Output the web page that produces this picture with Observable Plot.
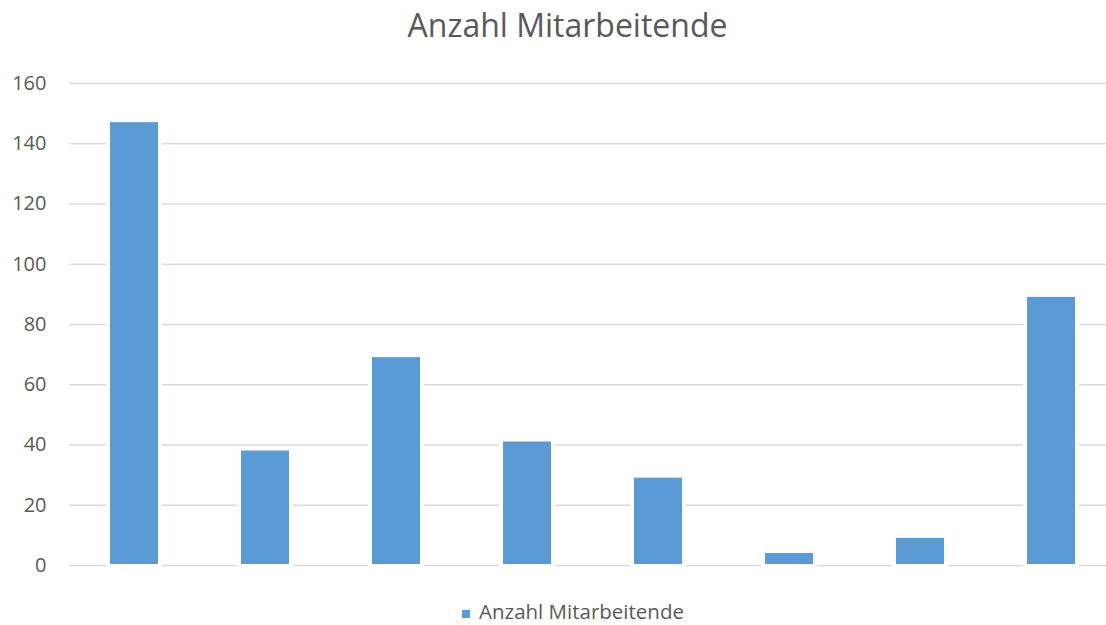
<!DOCTYPE html>
<html>
<head>
<meta charset="utf-8">
<script src="https://cdn.jsdelivr.net/npm/d3@7"></script>
<script src="https://cdn.jsdelivr.net/npm/@observablehq/plot@0.6"></script>
<style>
  html, body { margin: 0; padding: 0; background: #fff; }
  body { width: 1106px; height: 625px; overflow: hidden; font-family: "Open Sans", sans-serif; }
  #title { height: 60px; box-sizing: border-box; padding-top: 8.5px; line-height: 32px; font-size: 32px; color: #595959; text-align: center; padding-left: 29px; white-space: nowrap; }
  #legend { height: 35px; box-sizing: border-box; padding-top: 11px; line-height: 21px; font-size: 20.5px; color: #595959; text-align: center; padding-left: 40px; white-space: nowrap; }
  #legend .sw { display: inline-block; width: 8px; height: 8px; background: #5B9BD5; margin-right: 9px; vertical-align: 1px; }
  svg { display: block; }
</style>
</head>
<body>
<div id="title">Anzahl Mitarbeitende</div>
<div id="chart"></div>
<div id="legend"><span class="sw"></span>Anzahl Mitarbeitende</div>
<script>
const categories = ["1", "2", "3", "4", "5", "6", "7", "8"];
const values = [147, 38, 69, 41, 29, 4, 9, 89];
const yTicks = [0, 20, 40, 60, 80, 100, 120, 140, 160];
const seriesName = "Anzahl Mitarbeitende";

const data = categories.map((c, i) => ({cat: c, value: values[i]}));

const chart = Plot.plot({
  width: 1106,
  height: 530,
  marginTop: 23,
  marginBottom: 25,
  marginLeft: 69,
  marginRight: 0,
  style: {fontFamily: "'Open Sans', sans-serif", fontSize: "20px", color: "#595959", background: "#fff"},
  x: {domain: categories, range: [68.5, 1116.5], paddingInner: 0.63, paddingOuter: 0.315, axis: null},
  y: {domain: [0, 160], ticks: yTicks, tickSize: 0, tickPadding: 23, label: null, tickFormat: d => String(d)},
  marks: [
    Plot.ruleY(yTicks, {stroke: "#d9d9d9", strokeWidth: 1.5}),
    Plot.barY(data, {x: "cat", y: "value", fill: "#ffffff", insetLeft: -4, insetRight: -4, insetBottom: -3}),
    Plot.barY(data, {x: "cat", y: "value", fill: "#5B9BD5", insetBottom: 1, title: d => `${seriesName}: ${d.value}`})
  ]
});
document.getElementById("chart").appendChild(chart);
</script>
</body>
</html>
